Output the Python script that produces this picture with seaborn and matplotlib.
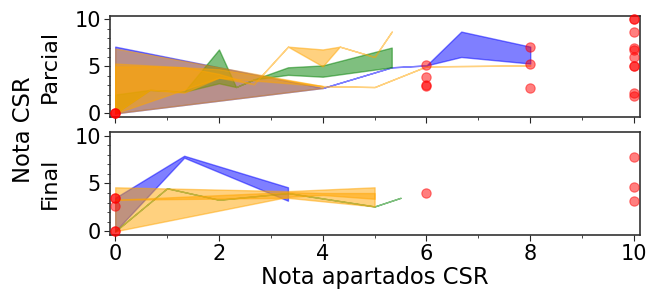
import numpy as np
import pandas as pd
import matplotlib
matplotlib.use('Agg')
import matplotlib.pyplot as plt
import seaborn as sns
from matplotlib.ticker import MultipleLocator


################################################################################
#
# Data
#
################################################################################

# --- Parcial panel ---
par_blue_x = [0, 4, 5.33, 6, 6.67, 8]
par_blue_lo = [0, 2.7, 4.9, 5.1, 6.0, 5.3]
par_blue_hi = [7.1, 2.7, 4.9, 5.1, 8.7, 7.1]

par_green_x = [0, 0.67, 1.33, 2, 2.33, 2.67, 3.33, 4, 5.33]
par_green_lo = [0, 2.5, 2.3, 3.2, 2.8, 3.6, 4.1, 3.9, 4.9]
par_green_hi = [2.0, 2.5, 2.3, 6.8, 2.8, 3.6, 4.9, 5.1, 7.0]

par_orange_a_x = [0, 2, 4, 5, 6, 8]
par_orange_a_lo = [0, 3.8, 2.9, 2.8, 5.0, 5.1]
par_orange_a_hi = [5.3, 4.7, 2.9, 2.8, 5.0, 5.1]

par_orange_b_x = [0, 0.67, 1.33, 2, 2.67, 3.33, 4, 4.33, 5, 5.33]
par_orange_b_lo = [0, 2.5, 2.2, 3.8, 3.1, 7.1, 5.0, 7.1, 6.0, 8.7]
par_orange_b_hi = [5.0, 5.0, 4.9, 4.2, 3.1, 7.1, 6.8, 7.1, 6.0, 8.7]

par_orange_c_x = [0, 4]
par_orange_c_lo = [0, 2.7]
par_orange_c_hi = [6.9, 2.9]

par_pts_x = [0, 0, 0, 6, 6, 6, 6, 8, 8, 8, 10, 10, 10, 10, 10, 10, 10, 10, 10, 10]
par_pts_y = [0, 0, 0, 5.1, 3.9, 3.0, 2.9, 7.1, 5.3, 2.7, 10, 10, 8.7, 7.0, 6.7, 6.0, 5.0, 5.0, 2.2, 1.9]

# --- Final panel ---
fin_blue_x = [0, 1.33, 3.33]
fin_blue_lo = [0, 7.7, 3.2]
fin_blue_hi = [3.5, 7.9, 4.6]

fin_green_x = [0, 1, 2, 3.33, 5, 5.5]
fin_green_lo = [0, 4.5, 3.3, 4.0, 2.6, 3.5]
fin_green_hi = [0, 4.5, 3.3, 4.0, 2.6, 3.5]

fin_orange_a_x = [0, 3.33, 5]
fin_orange_a_lo = [3.3, 3.5, 2.6]
fin_orange_a_hi = [4.6, 4.2, 4.6]

fin_orange_b_x = [0, 3.33, 4, 5]
fin_orange_b_lo = [0, 3.6, 3.8, 3.4]
fin_orange_b_hi = [3.3, 4.1, 4.0, 4.0]

fin_pts_x = [0, 0, 0, 0, 0, 6, 10, 10, 10]
fin_pts_y = [0, 0, 3.5, 3.5, 2.6, 4.0, 7.8, 4.6, 3.2]


################################################################################
#
# Plotting
#
################################################################################


def band(ax, x, lo, hi, color, alpha=0.5):
    ax.fill_between(x, lo, hi, color=color, alpha=alpha, linewidth=1.0)


def style_axes(ax):
    ax.set_xlim(-0.1, 10.12)
    ax.set_ylim(-0.4, 10.4)
    ax.xaxis.set_major_locator(MultipleLocator(2))
    ax.xaxis.set_minor_locator(MultipleLocator(1))
    ax.yaxis.set_major_locator(MultipleLocator(5))
    ax.yaxis.set_minor_locator(MultipleLocator(1))
    ax.tick_params(axis='both', which='major', labelsize=15, length=4,
                   pad=2.5, labelcolor='black')
    ax.tick_params(axis='both', which='minor', length=2)
    for s in ax.spines.values():
        s.set_color('#333333')
        s.set_linewidth(1.2)


def main():
    sns.set_style('ticks')
    plt.rcParams['text.color'] = 'black'
    plt.rcParams['axes.labelcolor'] = 'black'

    fig = plt.figure(figsize=(6.49, 2.95), dpi=100)
    ax1 = fig.add_axes([0.1695, 0.603, 0.817, 0.344])
    ax2 = fig.add_axes([0.1695, 0.203, 0.817, 0.350], sharex=ax1)

    # Parcial
    band(ax1, par_blue_x, par_blue_lo, par_blue_hi, 'blue')
    band(ax1, par_green_x, par_green_lo, par_green_hi, 'green')
    band(ax1, par_orange_c_x, par_orange_c_lo, par_orange_c_hi, 'orange', 0.45)
    band(ax1, par_orange_a_x, par_orange_a_lo, par_orange_a_hi, 'orange')
    band(ax1, par_orange_b_x, par_orange_b_lo, par_orange_b_hi, 'orange')
    df1 = pd.DataFrame({'x': par_pts_x, 'y': par_pts_y})
    sns.scatterplot(data=df1, x='x', y='y', color='red', alpha=0.5, s=45,
                    edgecolor='red', linewidth=0.8, ax=ax1, zorder=3, clip_on=False)

    # Final
    band(ax2, fin_blue_x, fin_blue_lo, fin_blue_hi, 'blue')
    band(ax2, fin_green_x, fin_green_lo, fin_green_hi, 'green')
    band(ax2, fin_orange_a_x, fin_orange_a_lo, fin_orange_a_hi, 'orange')
    band(ax2, fin_orange_b_x, fin_orange_b_lo, fin_orange_b_hi, 'orange')
    df2 = pd.DataFrame({'x': fin_pts_x, 'y': fin_pts_y})
    sns.scatterplot(data=df2, x='x', y='y', color='red', alpha=0.5, s=45,
                    edgecolor='red', linewidth=0.8, ax=ax2, zorder=3, clip_on=False)

    for ax in (ax1, ax2):
        style_axes(ax)
        ax.set_xlabel('')
    ax1.tick_params(axis='x', labelbottom=False)

    ax1.set_ylabel('Parcial', fontsize=16)
    ax2.set_ylabel('Final', fontsize=16)
    ax1.yaxis.set_label_coords(-0.094, 0.5)
    ax2.yaxis.set_label_coords(-0.094, 0.5)
    ax2.set_xlabel('Nota apartados CSR', fontsize=16.3, labelpad=1)
    fig.text(0.036, 0.56, 'Nota CSR', rotation=90, fontsize=16.3,
             ha='center', va='center')

    fig.savefig('out.png', dpi=100)


if __name__ == "__main__":
    main()
